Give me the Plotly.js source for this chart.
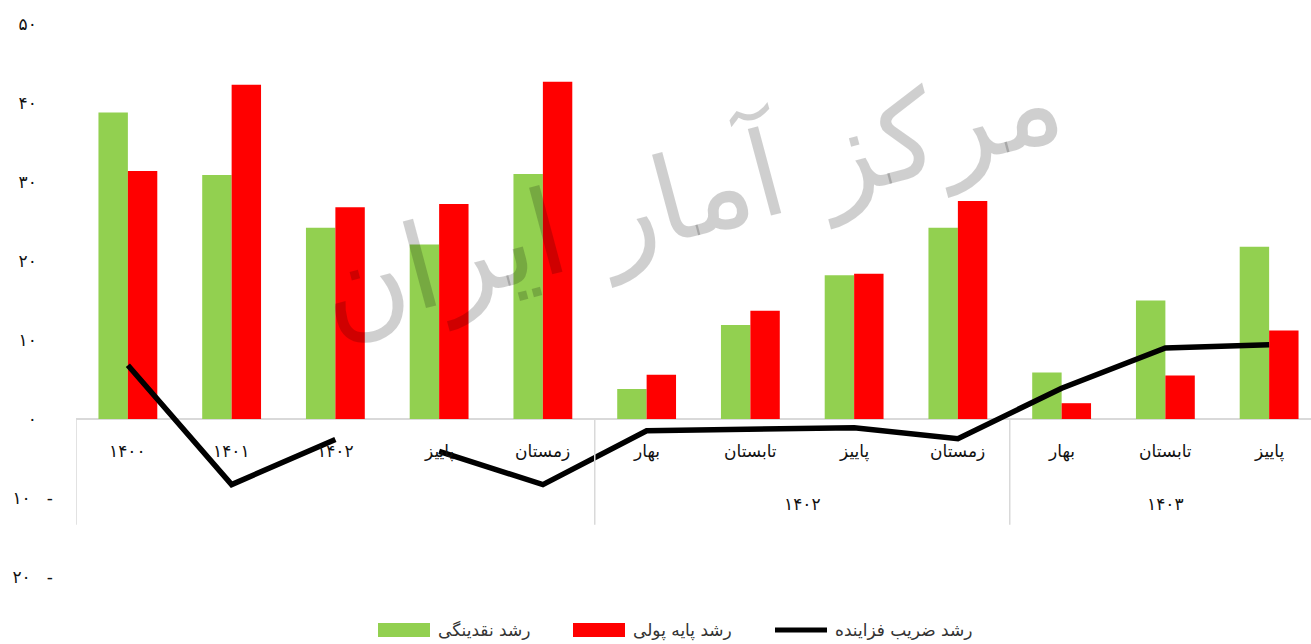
<!DOCTYPE html>
<html>
<head>
<meta charset="utf-8">
<script src="https://cdn.plot.ly/plotly-3.0.1.min.js"></script>
<style>
html,body{margin:0;padding:0;background:#fff;overflow:hidden;}
#chart{width:1311px;height:644px;}
</style>
</head>
<body>
<div id="chart"></div>
<script>
// ---------- data ----------
const categories = ["۱۴۰۰","۱۴۰۱","۱۴۰۲","پاییز","زمستان","بهار","تابستان","پاییز","زمستان","بهار","تابستان","پاییز"];
const groupLabels = ["", "۱۴۰۲", "۱۴۰۳"];
const groupStarts = [0, 5, 9];
const liquidityGrowth    = [38.8, 30.9, 24.2, 22.1, 31.0, 3.8, 11.9, 18.2, 24.2, 5.9, 15.0, 21.8];
const monetaryBaseGrowth = [31.4, 42.3, 26.8, 27.2, 42.7, 5.6, 13.7, 18.4, 27.6, 2.0, 5.5, 11.2];
const multiplierGrowth   = [6.8, -8.3, -2.6, -4.1, -8.3, -1.5, -1.3, -1.1, -2.5, 3.9, 9.0, 9.4];
const multiplierBreakBefore = 3;
const seriesNames = ["رشد نقدینگی", "رشد پایه پولی", "رشد ضریب فزاینده"];
const yTickValues = [50, 40, 30, 20, 10, 0, -10, -20];
const yTickLabels = ["۵۰", "۴۰", "۳۰", "۲۰", "۱۰", "۰", "۱۰ -", "۲۰ -"];
const watermarkText = "مرکز آمار ایران";

// ---------- layout constants ----------
const W = 1311, H = 644, ML = 76, MR = 0, MT = 24, MB = 67;
const GREEN = "#92D050", RED = "#FF0000", BLACK = "#000000";
const FONT = "DejaVu Sans";
const TEXT_COLOR = "#111111";
const AXIS_GRAY = "#d9d9d9";

const xIdx = categories.map((_, i) => i);
const n = categories.length;
const pxPerUnit = 103.75;
const xMax = -0.5 + (W - ML - MR) / pxPerUnit;

// multiplier line with a break
const lineX = [], lineY = [];
multiplierGrowth.forEach((v, i) => {
  if (i === multiplierBreakBefore) { lineX.push(null); lineY.push(null); }
  lineX.push(i); lineY.push(v);
});

const traces = [
  {type: "bar", x: xIdx, y: liquidityGrowth, name: seriesNames[0],
   marker: {color: GREEN}, showlegend: false},
  {type: "bar", x: xIdx, y: monetaryBaseGrowth, name: seriesNames[1],
   marker: {color: RED}, showlegend: false},
  {type: "scatter", mode: "lines", x: lineX, y: lineY, name: seriesNames[2],
   line: {color: BLACK, width: 5.5}, connectgaps: false, showlegend: false}
];

// y tick labels: pad positives so digits align like the reference
const NB = "\u00a0";
const yTickText = yTickLabels.map(t => t.includes("-")
  ? t.replace(" ", NB + NB + NB)
  : t + NB + NB + NB);

const pw = W - ML - MR, ph = H - MT - MB;
const pX = px => (px - ML) / pw;
const pY = py => (H - MB - py) / ph;

const shapes = [];
const annotations = [];

// group dividers
const dividerBottom = -13.4;
groupStarts.forEach(s => {
  shapes.push({type: "line", xref: "x", yref: "y", x0: s - 0.5, x1: s - 0.5,
    y0: 0, y1: dividerBottom, line: {color: AXIS_GRAY, width: 1.5}});
});

// category labels
categories.forEach((c, i) => {
  annotations.push({xref: "x", yref: "y", x: i, y: -4.1, text: c, showarrow: false,
    xanchor: "center", yanchor: "middle", font: {family: FONT, size: 17, color: TEXT_COLOR}});
});
// group labels
groupLabels.forEach((g, gi) => {
  if (!g) return;
  const start = groupStarts[gi];
  const end = gi + 1 < groupStarts.length ? groupStarts[gi + 1] - 1 : n - 1;
  annotations.push({xref: "x", yref: "y", x: (start + end) / 2, y: -10.7, text: g, showarrow: false,
    xanchor: "center", yanchor: "middle", font: {family: FONT, size: 17, color: TEXT_COLOR}});
});

// watermark
annotations.push({xref: "paper", yref: "paper", x: pX(690), y: pY(195), text: watermarkText,
  showarrow: false, textangle: -15, xanchor: "center", yanchor: "middle",
  font: {family: FONT, size: 118, color: "rgba(0,0,0,0.19)"}});

// custom legend
const legendX = [378, 573, 775];
const legendColors = [GREEN, RED, BLACK];
const legendY = 630, swW = 52, swH = 14;
legendX.forEach((lx, i) => {
  if (i < 2) {
    shapes.push({type: "rect", xref: "paper", yref: "paper", x0: pX(lx), x1: pX(lx + swW),
      y0: pY(legendY - swH / 2), y1: pY(legendY + swH / 2),
      fillcolor: legendColors[i], line: {width: 0}});
  } else {
    shapes.push({type: "line", xref: "paper", yref: "paper", x0: pX(lx), x1: pX(lx + swW),
      y0: pY(legendY), y1: pY(legendY), line: {color: legendColors[i], width: 5}});
  }
  annotations.push({xref: "paper", yref: "paper", x: pX(lx + swW + 6), y: pY(legendY),
    text: seriesNames[i], showarrow: false, xanchor: "left", yanchor: "middle",
    font: {family: FONT, size: 17, color: "#333"}});
});

const layout = {
  width: W, height: H,
  margin: {l: ML, r: MR, t: MT, b: MB, pad: 0},
  paper_bgcolor: "#fff", plot_bgcolor: "#fff",
  barmode: "group", bargap: 0.433, bargroupgap: 0,
  showlegend: false,
  font: {family: FONT, size: 15, color: TEXT_COLOR},
  xaxis: {range: [-0.5, xMax], showticklabels: false, showgrid: false,
    zeroline: false, showline: false, ticks: "", fixedrange: true},
  yaxis: {range: [-20, 50], tickmode: "array", tickvals: yTickValues, ticktext: yTickText,
    showgrid: false, zeroline: true, zerolinecolor: AXIS_GRAY, zerolinewidth: 2,
    showline: false, ticks: "", ticklabelstandoff: 22,
    tickfont: {family: FONT, size: 17, color: TEXT_COLOR}, fixedrange: true},
  shapes: shapes,
  annotations: annotations
};

Plotly.newPlot("chart", traces, layout, {staticPlot: true, displayModeBar: false});
</script>
</body>
</html>
